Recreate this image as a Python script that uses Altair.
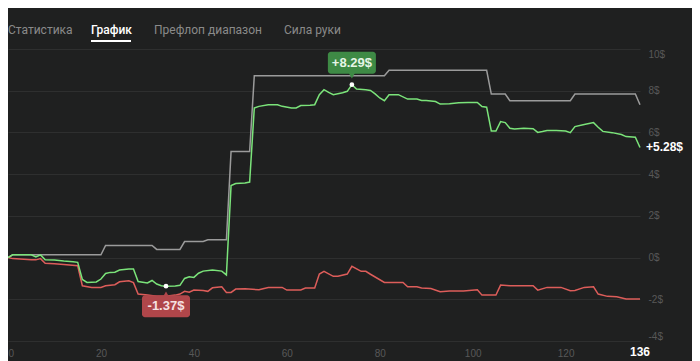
import altair as alt
import pandas as pd

# ---------------- data ----------------
green_hand = [0, 1, 5, 6, 7, 8, 10, 12, 14, 15, 16, 17, 19, 20, 21, 22, 23, 24, 26, 27, 28, 30, 31, 32, 33, 34, 36, 37, 38, 39, 40, 41, 42, 44, 46, 47,
              48, 49, 51, 52, 53, 54, 56, 58, 59, 61, 62, 63, 65, 66, 67, 68, 69, 70, 72, 73, 74, 75, 77, 78, 79, 80, 81, 82, 84, 86, 88, 89, 90,
              92, 93, 95, 97, 99, 101, 102, 103, 104, 105, 106, 107, 108, 109, 111, 113, 114, 115, 116, 118, 120, 121, 122, 124, 126, 127, 128,
              130, 132, 133, 135, 136]
green_val = [0, 0.13, 0.13, 0.03, 0.13, -0.10, -0.12, -0.17, -0.20, -0.23, -1.05, -1.19, -1.17, -1.03, -0.76, -0.71, -0.70, -0.60, -0.55, -0.55,
             -1.15, -1.22, -1.10, -1.27, -1.35, -1.37, -1.36, -1.33, -1.00, -0.92, -0.95, -0.75, -0.65, -0.60, -0.65, -0.83,
             3.45, 3.55, 3.58, 3.62, 7.17, 7.25, 7.33, 7.33, 7.25, 7.17, 7.17, 7.29, 7.30, 7.33, 7.81, 8.05, 7.92, 7.81, 7.90, 7.97, 8.29, 8.08,
             8.05, 8.01, 7.85, 7.65, 7.52, 7.81, 7.81, 7.60, 7.60, 7.53, 7.53, 7.48, 7.36, 7.38, 7.42, 7.44, 7.44, 7.24, 7.21, 6.07, 6.07,
             6.52, 6.47, 6.20, 6.17, 6.20, 6.18, 6.00, 6.04, 6.09, 6.09, 6.07, 5.99, 6.28, 6.38, 6.47, 6.25, 6.05, 5.99, 5.90, 5.80, 5.77, 5.28]

gray_hand = [0, 1, 20, 21, 31, 32, 37, 38, 42, 43, 47, 48, 52, 53, 81, 82, 103, 104, 107, 108, 121, 122, 135, 136]
gray_val = [0, 0.13, 0.13, 0.58, 0.58, 0.39, 0.39, 0.77, 0.77, 0.85, 0.85, 5.08, 5.08, 8.72, 8.72, 8.98, 8.98, 7.84, 7.84, 7.52, 7.52,
            7.84, 7.84, 7.33]

red_hand = [0, 1, 5, 6, 7, 8, 10, 12, 15, 16, 18, 20, 21, 23, 24, 26, 27, 28, 30, 32, 34, 36, 37, 38, 39, 40, 42, 43, 44, 46, 47, 48, 49,
            51, 54, 56, 59, 60, 63, 64, 66, 67, 68, 70, 71, 73, 74, 76, 77, 78, 81, 83, 85, 86, 88, 89, 91, 93, 95, 98, 101, 102, 105,
            106, 108, 111, 113, 114, 116, 119, 121, 122, 124, 126, 127, 129, 131, 133, 136]
red_val = [0, -0.05, -0.10, -0.11, -0.05, -0.27, -0.30, -0.33, -0.39, -1.35, -1.43, -1.43, -1.35, -1.30, -1.16, -1.11, -1.20, -1.75,
           -1.80, -1.85, -1.85, -1.80, -1.75, -1.62, -1.66, -1.56, -1.58, -1.62, -1.45, -1.40, -1.67, -1.67, -1.51, -1.50, -1.54, -1.43,
           -1.43, -1.56, -1.55, -1.46, -1.46, -0.79, -0.66, -0.90, -0.90, -0.79, -0.42, -0.66, -0.66, -0.80, -1.19, -1.20, -1.19, -1.40,
           -1.40, -1.46, -1.48, -1.64, -1.60, -1.60, -1.54, -1.80, -1.80, -1.32, -1.35, -1.35, -1.35, -1.56, -1.43, -1.43, -1.59, -1.58,
           -1.43, -1.40, -1.75, -1.86, -1.88, -1.99, -1.99]

max_hand, max_val, max_text = [74], [8.29], ["+8.29$"]
min_hand, min_val, min_text = [34], [-1.37], ["-1.37$"]
final_hand, final_val, final_text = [136], [5.28], ["+5.28$"]
last_label = ["136"]
x_ticks = [0, 20, 40, 60, 80, 100, 120]
y_ticks = [-4, -2, 0, 2, 4, 6, 8, 10]
tabs = ["Статистика", "График", "Префлоп диапазон", "Сила руки"]

# ---------------- styling ----------------
BG = "#1f2020"
W, H = 632, 292
FONT = "Liberation Sans"

xs = alt.Scale(domain=[0, 136], nice=False, zero=False)
ys = alt.Scale(domain=[-4, 10], nice=False, zero=False)

X = alt.X("hand:Q", scale=xs, title=None,
          axis=alt.Axis(values=x_ticks, grid=False, domain=False, ticks=False, labelFlush=True,
                        labelColor="#585858", labelFontSize=10, labelPadding=7, labelFont=FONT))
Y = alt.Y("val:Q", scale=ys, title=None,
          axis=alt.Axis(orient="right", values=y_ticks, grid=True, gridColor="#2e2f2f", gridWidth=1,
                        domain=False, ticks=False, labelFlush=True, labelPadding=8,
                        labelExpr="datum.value + '$'", labelColor="#585858", labelFontSize=10, labelFont=FONT))


def df(h, v, t=None):
    d = {"hand": h, "val": v}
    if t is not None:
        d["t"] = t
    return pd.DataFrame(d)


gray = alt.Chart(df(gray_hand, gray_val)).mark_line(color="#9b9b9b", strokeWidth=1.5).encode(x=X, y=Y)
red = alt.Chart(df(red_hand, red_val)).mark_line(color="#dd5d5a", strokeWidth=1.5).encode(x=X, y=Y)
green = alt.Chart(df(green_hand, green_val)).mark_line(color="#7be47a", strokeWidth=1.5).encode(x=X, y=Y)

GBOX = "#3e8a45"
RBOX = "#b0464a"

mx = df(max_hand, max_val, max_text)
mn = df(min_hand, min_val, min_text)
fn = df(final_hand, final_val, final_text)

g_box = alt.Chart(mx).mark_rect(color=GBOX, cornerRadius=3, xOffset=-24, x2Offset=24, yOffset=-33, y2Offset=-11).encode(
    x=X, x2="hand:Q", y=Y, y2="val:Q")
g_tri = alt.Chart(mx).mark_point(shape="triangle-down", filled=True, size=40, color=GBOX, opacity=1, yOffset=-9).encode(x=X, y=Y)
g_txt = alt.Chart(mx).mark_text(dy=-22, fontSize=13, fontWeight="bold", color="#e6f5e6", font=FONT).encode(x=X, y=Y, text="t:N")

r_box = alt.Chart(mn).mark_rect(color=RBOX, cornerRadius=3, xOffset=-24, x2Offset=24, yOffset=9, y2Offset=31).encode(
    x=X, x2="hand:Q", y=Y, y2="val:Q")
r_tri = alt.Chart(mn).mark_point(shape="triangle-up", filled=True, size=40, color=RBOX, opacity=1, yOffset=8).encode(x=X, y=Y)
r_txt = alt.Chart(mn).mark_text(dy=20, fontSize=13, fontWeight="bold", color="#f6e2e2", font=FONT).encode(x=X, y=Y, text="t:N")

dots = alt.Chart(pd.concat([mx, mn])).mark_point(filled=True, color="white", size=22, opacity=1).encode(x=X, y=Y)

fin_txt = alt.Chart(fn).mark_text(align="left", dx=6, fontSize=12, fontWeight="bold", color="#ffffff", font=FONT).encode(
    x=X, y=Y, text="t:N")

last_lbl = alt.Chart(pd.DataFrame({"hand": final_hand, "t": last_label})).mark_text(
    fontSize=12, fontWeight="bold", color="#ffffff", font=FONT, baseline="middle").encode(
    x=X, y=alt.value(H + 11), text="t:N")

# tabs
tab_x = [0, 83, 146, 276]
tab_layers = []
for i, name in enumerate(tabs):
    active = (i == 1)
    tab_layers.append(
        alt.Chart(pd.DataFrame({"t": [name]})).mark_text(
            align="left", baseline="middle", fontSize=12, font="Roboto",
            fontWeight=500 if active else 400, color="#ffffff" if active else "#8a8a8a").encode(
            x=alt.value(tab_x[i]), y=alt.value(-19), text="t:N"))

underline = alt.Chart(pd.DataFrame({"t": [0]})).mark_rule(color="#ffffff", strokeWidth=2).encode(
    x=alt.value(83), x2=alt.value(123), y=alt.value(-8))

topbox = alt.Chart(pd.DataFrame({"t": [0]})).mark_rect(
    fill=BG, stroke="#444545", strokeWidth=1, cornerRadius=8).encode(
    x=alt.value(2), x2=alt.value(70), y=alt.value(-62), y2=alt.value(-45))

chart = alt.layer(
    topbox, *tab_layers, underline,
    gray, red, green,
    g_box, g_tri, g_txt, r_box, r_tri, r_txt, dots, fin_txt, last_lbl
).properties(
    width=W, height=H,
    background=BG,
    padding={"left": 0, "top": 41, "right": 52, "bottom": 20},
    autosize=alt.AutoSizeParams(type="none"),
    usermeta={"embedOptions": {"defaultStyle": "body{background:#1f2020;margin:8px;overflow:hidden}"}},
).configure_view(stroke=None)

chart.save("out.html", embed_options={"renderer": "svg", "actions": False})
